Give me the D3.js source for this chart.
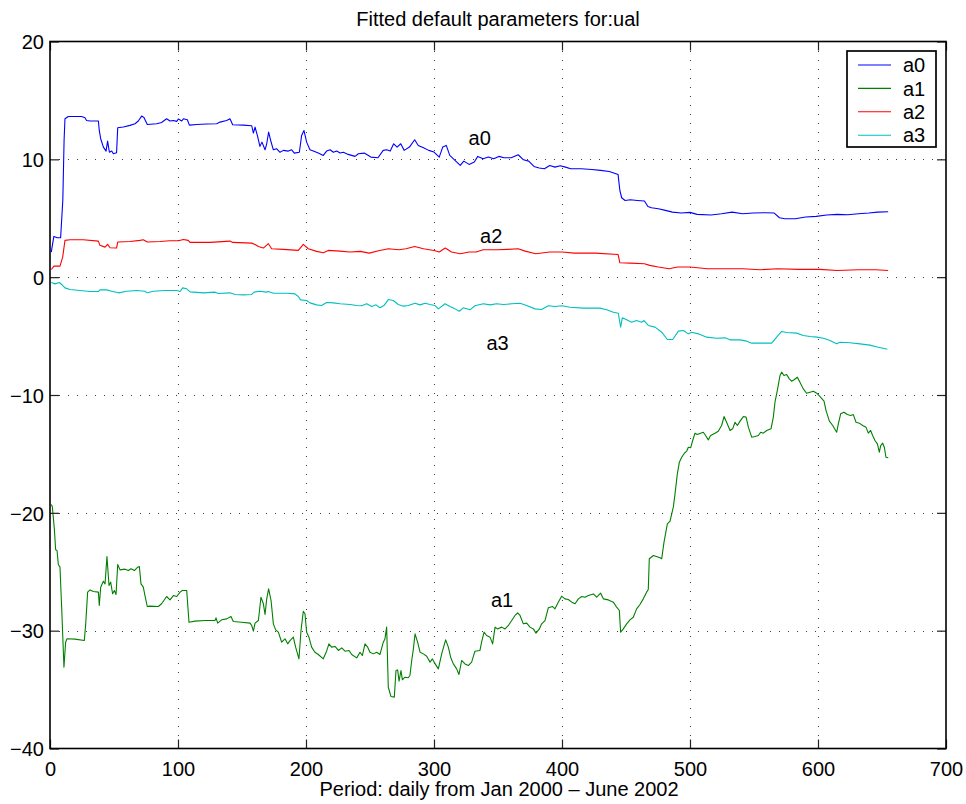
<!DOCTYPE html>
<html>
<head>
<meta charset="utf-8">
<script src="https://cdn.jsdelivr.net/npm/d3@7"></script>
<style>
  html, body { margin: 0; padding: 0; background: #fff; }
  svg { display: block; }
  text { font-family: "Liberation Sans", Arial, Helvetica, sans-serif; fill: #000; }
</style>
</head>
<body>
<svg id="chart" width="966" height="804"></svg>
<script>
// Fitted parameter traces, [day, value]
const a0Trace = [[1,2.13],[3,3.46],[5.7,3.35],[8.3,3.35],[10,6.5],[11,11.6],[11.7,13.44],[14.3,13.64],[24.7,13.64],[27.3,13.53],[28.6,13.3],[31.3,13.25],[37.8,13.25],[38.5,12.45],[39.6,11.75],[41.7,11.04],[43.8,10.7],[45,11.55],[46.4,10.6],[48.2,10.7],[49.5,10.47],[52,10.56],[52.9,12.68],[57.3,12.74],[62.5,12.88],[66.4,13.02],[69,13.25],[71.6,13.67],[73.4,13.55],[76,12.96],[83.3,13.02],[87.2,13.13],[91.1,13.44],[93.75,13.25],[96.4,13.3],[99,13.22],[100.3,13.42],[102.9,13.25],[104.2,13.44],[107.3,13.36],[108.9,12.9],[114.6,12.96],[122.4,13.0],[130.2,13.02],[132.8,13.16],[138,13.3],[140.6,13.44],[142.7,12.93],[151,12.9],[157.6,12.85],[158.9,12.23],[160.2,12.74],[162,12.03],[164,11.1],[165.6,11.46],[168,10.81],[169.3,11.32],[170.8,12.31],[172.4,11.6],[174.5,10.81],[177,10.9],[179.7,10.6],[182.3,10.76],[186.2,10.7],[188.8,10.81],[190.9,10.53],[194.8,10.6],[196.6,12.03],[198.4,12.45],[200.5,11.46],[203.1,10.81],[205.7,10.7],[209.6,10.53],[213.5,10.33],[216.1,10.7],[218.8,10.81],[221.4,10.6],[224,10.7],[226.6,10.53],[229.2,10.6],[233,10.42],[238.3,10.25],[240.9,10.47],[245.5,10.53],[250.7,10.19],[256.2,10.13],[260.3,10.76],[263,10.81],[265.8,10.7],[268.5,11.32],[271.2,11.04],[274,11.32],[276.7,10.76],[280.8,11.04],[284.9,11.66],[287.7,11.18],[291.8,10.98],[295.9,10.76],[300,10.62],[304.1,10.19],[306.8,11.04],[309.6,11.18],[312.3,10.33],[316.4,9.91],[320.5,9.48],[323.3,9.85],[327.4,9.57],[331.5,9.77],[334.2,10.25],[338.4,10.05],[342.5,10.19],[346.6,10.05],[350.7,10.25],[354.8,10.13],[360.3,10.13],[365.8,10.39],[369.9,9.96],[374,9.85],[378.1,9.4],[382.2,9.26],[386.3,9.2],[390.4,9.48],[394.5,9.34],[398.6,9.46],[402.7,9.34],[406.8,9.2],[415.1,9.2],[423.3,9.14],[430.1,9.06],[437,8.97],[443.8,8.72],[445.2,7.36],[446.6,6.74],[449.3,6.51],[453.4,6.57],[458.9,6.51],[464.4,6.46],[467.1,6.0],[469.9,5.89],[475.3,5.81],[480.8,5.67],[486.3,5.52],[493.2,5.44],[500,5.5],[505.5,5.33],[516.4,5.27],[524.7,5.38],[532.9,5.52],[541.1,5.38],[549.3,5.44],[558.9,5.47],[565.8,5.44],[569.9,5.04],[574,4.96],[582.2,4.96],[590.4,5.1],[598.6,5.16],[606.8,5.27],[615.1,5.33],[623.3,5.3],[631.5,5.38],[639.7,5.44],[646.6,5.52],[654.8,5.55]];

const a1Trace = [[1,-19.3],[1.8,-19.46],[3.4,-21.36],[4.4,-23.14],[5.5,-23.2],[6.5,-24.39],[7.8,-24.61],[9.1,-28.0],[10.9,-33.1],[12.2,-30.98],[13.3,-30.69],[19.5,-30.72],[26.8,-30.84],[27.9,-29.42],[29.4,-26.73],[31.3,-26.54],[33.9,-26.68],[37.8,-26.73],[38.5,-27.86],[39.6,-26.31],[41.7,-25.8],[43,-26.03],[44.5,-23.71],[46.1,-26.17],[47.4,-25.88],[48.9,-26.87],[50.3,-26.59],[51.6,-26.93],[52.9,-24.39],[54.7,-24.84],[58.6,-24.78],[61.2,-24.9],[63.3,-24.75],[65.9,-24.9],[68.5,-24.61],[69.8,-24.55],[71.1,-26.03],[72.9,-26.31],[74.2,-27.02],[76,-27.95],[78.1,-27.92],[84.6,-27.95],[87.2,-27.72],[91.1,-27.1],[93.75,-27.38],[96.4,-27.02],[99,-27.1],[101.6,-26.73],[103.4,-26.59],[106.8,-26.59],[108.6,-29.28],[113.3,-29.19],[121.1,-29.14],[128.9,-29.14],[129.7,-28.91],[131,-29.36],[134.1,-29.08],[138,-29.0],[141.4,-28.8],[143.2,-29.22],[149.7,-29.28],[156.3,-29.36],[157.6,-29.56],[158.9,-30.04],[160.2,-29.36],[162.8,-29.14],[164.8,-27.16],[166.7,-27.72],[168,-28.63],[169.3,-27.3],[170.8,-26.45],[172.7,-27.44],[174.5,-29.42],[176.3,-29.93],[178.4,-30.13],[181,-30.98],[183.6,-30.69],[185.7,-31.12],[187.5,-30.84],[190.1,-30.55],[191.9,-31.4],[194.5,-32.39],[196.1,-29.99],[197.9,-28.35],[199.2,-28.57],[200.5,-30.13],[202.3,-30.55],[204.4,-31.4],[207,-31.83],[209.6,-32.02],[213.5,-32.39],[216.1,-31.74],[217.9,-31.12],[220,-31.4],[222.7,-31.34],[225.3,-31.68],[227.9,-31.46],[230.5,-31.74],[233.6,-31.68],[235.7,-32.02],[239.6,-32.31],[242.2,-31.83],[244,-32.11],[246.1,-31.12],[248.2,-31.4],[250,-31.83],[252.6,-31.97],[255.2,-31.83],[257.8,-32.02],[260.4,-30.98],[261.7,-30.69],[263,-29.7],[264.3,-34.8],[266.4,-35.59],[269,-35.64],[270.3,-33.38],[271.6,-33.33],[272.7,-34.29],[274.2,-33.38],[275.3,-34.17],[277.3,-33.95],[279.9,-34.0],[281.2,-33.8],[282.6,-32.53],[283.9,-31.54],[285.2,-30.27],[287.2,-30.98],[289.1,-31.83],[291.7,-31.97],[294.3,-32.17],[296.9,-32.67],[298.7,-32.39],[300.8,-32.8],[303.4,-33.24],[306,-31.97],[309.1,-30.78],[311.2,-31.4],[313,-32.25],[315.1,-32.82],[317.7,-33.24],[319.5,-33.72],[321.6,-32.53],[324.2,-32.82],[326.8,-32.96],[329.4,-32.67],[332,-31.74],[335.9,-31.68],[337.2,-30.98],[339.1,-30.13],[341.1,-30.41],[343.8,-30.55],[345.8,-31.12],[347.7,-29.7],[349.5,-29.85],[352.9,-29.7],[355.5,-29.85],[358.1,-29.56],[360.7,-29.14],[363.3,-28.71],[365.4,-28.49],[367.2,-28.71],[369.8,-29.42],[372.4,-29.36],[375,-29.7],[377.6,-29.85],[379.7,-30.21],[382.3,-29.85],[384.1,-29.42],[386.7,-29.14],[389.3,-28.06],[392.7,-27.95],[394.5,-28.15],[397.1,-27.58],[399.7,-27.07],[402.3,-27.3],[404.9,-27.36],[407.6,-27.58],[410.2,-27.72],[412.8,-27.3],[415.4,-27.1],[418,-27.16],[420.6,-27.02],[424.5,-26.88],[427.1,-27.16],[430.2,-26.82],[432.3,-27.3],[436.2,-27.39],[440.1,-27.58],[442.7,-28.01],[444.8,-28.29],[445.8,-30.13],[447.9,-29.85],[450.5,-29.42],[453.1,-29.08],[455.7,-28.86],[458.3,-28.15],[460.9,-27.78],[463.5,-27.3],[466.1,-26.73],[467.4,-26.5],[468.2,-23.9],[471.4,-23.62],[476.6,-23.82],[477.9,-23.9],[479.7,-22.49],[482.3,-20.93],[484.4,-20.7],[487,-19.5],[488.3,-18.39],[490.1,-16.69],[491.7,-15.7],[493.5,-15.28],[495.6,-14.94],[497.4,-14.77],[498.7,-14.43],[500.5,-14.48],[502.1,-13.86],[503.9,-13.24],[505.7,-13.35],[508.3,-13.24],[510.4,-13.16],[512.2,-13.44],[514.3,-13.81],[516.1,-13.44],[519.5,-13.24],[522.1,-13.07],[524.7,-12.59],[526.6,-11.83],[528.6,-12.31],[531.3,-13.01],[533.3,-12.87],[535.2,-12.31],[537,-12.59],[539.1,-12.22],[541.7,-11.83],[543.8,-11.88],[545.6,-12.73],[548.2,-13.58],[550.8,-13.52],[553.4,-13.44],[555.2,-13.16],[557.3,-13.24],[559.9,-13.01],[563.3,-12.87],[565.1,-11.88],[566.4,-10.61],[568.2,-9.62],[570.3,-8.35],[571.6,-8.06],[573.4,-8.35],[575.5,-8.26],[577.6,-8.63],[579.4,-8.83],[581.3,-8.71],[583.9,-8.49],[585.9,-8.91],[588.5,-9.48],[591.1,-9.85],[593.8,-9.76],[596.4,-9.68],[599,-9.85],[601.6,-10.13],[604.7,-10.52],[606.3,-11.32],[608.9,-12.22],[611.5,-12.59],[614.6,-13.16],[615.9,-12.45],[617.7,-11.6],[620.3,-11.46],[622.9,-11.66],[625.5,-11.74],[627.6,-11.66],[629.7,-12.31],[632.3,-12.39],[634.9,-12.59],[637.5,-12.73],[639.3,-13.24],[641.1,-13.01],[642.7,-13.44],[644.5,-13.86],[646.4,-14.15],[647.9,-14.85],[649,-14.29],[650.5,-14.09],[651.8,-14.43],[653.1,-15.28],[654.9,-15.33]];

const a2Trace = [[1,0.65],[3.1,0.94],[7.8,0.94],[9.9,1.7],[11.7,3.12],[15.6,3.18],[26,3.18],[37.8,3.06],[39,2.7],[43,2.55],[45,2.78],[46.9,2.5],[52,2.47],[52.9,2.98],[62.5,3.03],[70.3,3.12],[72.9,3.18],[76,2.98],[85.9,3.03],[93.75,3.09],[100.3,3.09],[104.2,3.2],[108,3.12],[109.4,2.95],[125,2.95],[140.6,3.06],[142.7,2.95],[157.6,2.89],[160.2,2.78],[162.8,2.61],[166.7,2.47],[170.6,2.84],[173.2,2.41],[182.3,2.36],[194,2.27],[197.9,2.78],[201.8,2.41],[208.3,2.19],[213.5,2.07],[217.4,2.27],[226.6,2.21],[234.4,2.13],[242.5,2.19],[249.3,2.04],[257.5,2.27],[264.4,2.41],[272.6,2.33],[278.1,2.41],[284.9,2.61],[291.8,2.41],[300,2.27],[304.1,2.13],[308.8,2.47],[313.7,2.13],[320.5,1.99],[327.4,2.13],[332.9,2.13],[338.4,2.33],[349.3,2.33],[357.5,2.36],[365.8,2.41],[371.2,2.21],[379.5,1.99],[390.4,2.13],[400,2.13],[409.6,2.04],[426,2.04],[443.8,1.93],[445.2,1.22],[453.4,1.19],[464.4,1.14],[468.5,1.0],[475.3,0.86],[483.6,0.71],[490.4,0.86],[500,0.86],[513.7,0.71],[527.4,0.71],[541.1,0.71],[554.8,0.63],[568.5,0.71],[584.9,0.66],[601.4,0.66],[615.1,0.57],[631.5,0.63],[645.2,0.63],[654.8,0.57]];

const a3Trace = [[1,-0.45],[3.9,-0.57],[7.3,-0.45],[9.1,-0.62],[11.7,-0.91],[15.6,-1.05],[23.4,-1.13],[31.3,-1.22],[37.8,-1.22],[39,-1.08],[44.3,-1.08],[48.2,-1.19],[53.4,-1.33],[59.9,-1.19],[67.7,-1.13],[74.2,-1.19],[76,-1.33],[80.7,-1.19],[89.8,-1.13],[99,-1.13],[101.6,-1.22],[103.6,-0.91],[106.8,-0.99],[109.4,-1.25],[119.8,-1.33],[128.9,-1.27],[131.5,-1.39],[140.6,-1.33],[144.5,-1.47],[151,-1.5],[157.6,-1.47],[159.4,-1.27],[164,-1.19],[169.3,-1.27],[170.6,-1.22],[174.5,-1.36],[184.9,-1.36],[191.4,-1.42],[194,-1.64],[195.8,-1.93],[200.5,-1.98],[203.1,-2.18],[208.3,-2.35],[212.2,-2.41],[216.1,-2.15],[221.4,-2.18],[226.6,-2.26],[234.4,-2.32],[239.6,-2.41],[243.5,-2.43],[247.4,-2.26],[251.3,-2.49],[254.7,-2.35],[257.8,-2.6],[260.9,-2.41],[264.3,-1.9],[268.2,-1.98],[272.1,-2.32],[276,-2.46],[279.9,-2.41],[285.2,-2.21],[289.1,-2.35],[293,-2.21],[296.9,-2.32],[300.8,-2.41],[303.4,-2.69],[308.6,-2.26],[312.5,-2.49],[316.4,-2.69],[319.8,-2.89],[322.9,-2.6],[328.1,-2.77],[332,-2.43],[338.5,-2.26],[343.7,-2.35],[348.9,-2.26],[354.2,-2.32],[360.7,-2.26],[367.2,-2.21],[372.4,-2.41],[378.9,-2.69],[384.1,-2.75],[389.3,-2.43],[394.5,-2.49],[400,-2.43],[406.3,-2.55],[416.7,-2.63],[429.7,-2.63],[434.9,-2.77],[440.1,-2.97],[444,-3.06],[445.8,-4.24],[447.1,-3.45],[450.5,-3.62],[454.4,-3.82],[458.3,-3.68],[462.2,-3.82],[464.1,-3.68],[467.4,-4.1],[472.7,-4.24],[477.9,-4.67],[482.3,-5.29],[486.5,-5.29],[490.9,-4.58],[494.8,-4.53],[498.7,-4.81],[501.3,-4.67],[506.5,-4.81],[513,-5.09],[520.8,-5.18],[527.3,-5.15],[531.3,-5.32],[539.1,-5.32],[544.3,-5.43],[548.2,-5.6],[554.7,-5.6],[563.8,-5.6],[567.7,-5.09],[571.6,-4.61],[575.5,-4.7],[583.3,-4.75],[588.5,-4.95],[593.8,-5.04],[599,-5.09],[604.2,-5.18],[609.4,-5.38],[614.6,-5.66],[617.2,-5.52],[625,-5.57],[632.8,-5.66],[640.6,-5.77],[647.1,-5.94],[654.2,-6.11]];

const seriesNames = ["a0", "a1", "a2", "a3"];
const seriesTraces = [a0Trace, a1Trace, a2Trace, a3Trace];

// Axis ticks and limits
const xTicks = [0, 100, 200, 300, 400, 500, 600, 700];
const yTicks = [-40, -30, -20, -10, 0, 10, 20];
const xDomain = [0, 700];
const yDomain = [-40, 20];

// In-plot annotations (data coordinates, left edge / vertical middle)
const annotations = [
  { name: "a0", day: 327, value: 11.85 },
  { name: "a2", day: 336, value: 3.5 },
  { name: "a3", day: 341, value: -5.55 },
  { name: "a1", day: 344.5, value: -27.35 }
];

const titleText = "Fitted default parameters for:ual";
const xLabelText = "Period: daily from Jan 2000 \u2013 June 2002";

// ---- drawing ----
const colors = { a0: "#0000ff", a1: "#008000", a2: "#ff0000", a3: "#00bfbf" };
const plot = { left: 50, top: 41.5, right: 946, bottom: 748.5 };
const fontSize = 20;
const tickLen = 9;

const svg = d3.select("#chart");
const x = d3.scaleLinear().domain(xDomain).range([plot.left, plot.right]);
const y = d3.scaleLinear().domain(yDomain).range([plot.bottom, plot.top]);
const fmt = v => (v < 0 ? "\u2212" + Math.abs(v) : String(v));

// Dotted grid
const grid = svg.append("g").attr("stroke", "#3a3a3a").attr("stroke-width", 1)
  .attr("stroke-dasharray", "1,8").attr("shape-rendering", "crispEdges");
grid.selectAll("line.gx").data(xTicks.filter(t => t > xDomain[0] && t < xDomain[1]))
  .join("line").attr("class", "gx")
  .attr("x1", d => Math.round(x(d)) + 0.5).attr("x2", d => Math.round(x(d)) + 0.5)
  .attr("y1", plot.top).attr("y2", plot.bottom);
grid.selectAll("line.gy").data(yTicks.filter(t => t > yDomain[0] && t < yDomain[1]))
  .join("line").attr("class", "gy")
  .attr("y1", d => Math.round(y(d)) + 0.5).attr("y2", d => Math.round(y(d)) + 0.5)
  .attr("x1", plot.left).attr("x2", plot.right);

// Series lines
const line = d3.line().x(d => x(d[0])).y(d => y(d[1]));
svg.append("g").selectAll("path").data(seriesNames)
  .join("path")
  .attr("fill", "none")
  .attr("stroke", n => colors[n])
  .attr("stroke-width", 1.1)
  .attr("stroke-linejoin", "round")
  .attr("d", (n, i) => line(seriesTraces[i]));

// Axes: ticks inside on all four sides (box)
const axBottom = d3.axisBottom(x).tickValues(xTicks).tickSize(-tickLen).tickPadding(tickLen + 4).tickFormat(fmt);
const axTop = d3.axisTop(x).tickValues(xTicks).tickSize(-tickLen).tickFormat("");
const axLeft = d3.axisLeft(y).tickValues(yTicks).tickSize(-tickLen).tickPadding(tickLen + 5).tickFormat(fmt);
const axRight = d3.axisRight(y).tickValues(yTicks).tickSize(-tickLen).tickFormat("");

function styleAxis(g) {
  g.select(".domain").remove();
  g.selectAll(".tick line").attr("stroke", "#222").attr("stroke-width", 1.2);
  g.selectAll(".tick text").attr("font-size", fontSize)
    .attr("font-family", '"Liberation Sans", Arial, Helvetica, sans-serif').attr("fill", "#000");
}
svg.append("g").attr("transform", `translate(0,${plot.bottom})`).call(axBottom).call(styleAxis)
  .selectAll(".tick text").attr("dy", "0.71em").attr("y", 13);
svg.append("g").attr("transform", `translate(0,${plot.top})`).call(axTop).call(styleAxis);
svg.append("g").attr("transform", `translate(${plot.left},0)`).call(axLeft).call(styleAxis)
  .selectAll(".tick text").attr("x", -6).attr("dy", "0.36em");
svg.append("g").attr("transform", `translate(${plot.right},0)`).call(axRight).call(styleAxis);

// Box
svg.append("rect")
  .attr("x", plot.left).attr("y", plot.top)
  .attr("width", plot.right - plot.left).attr("height", plot.bottom - plot.top)
  .attr("fill", "none").attr("stroke", "#000").attr("stroke-width", 1.6);

// Title and axis label
svg.append("text").attr("x", (plot.left + plot.right) / 2).attr("y", 26)
  .attr("text-anchor", "middle").attr("font-size", fontSize).text(titleText);
svg.append("text").attr("x", (plot.left + plot.right) / 2 + 1).attr("y", 796)
  .attr("text-anchor", "middle").attr("font-size", fontSize).text(xLabelText);

// Annotations
svg.append("g").selectAll("text").data(annotations).join("text")
  .attr("x", d => x(d.day)).attr("y", d => y(d.value))
  .attr("dy", "0.36em").attr("font-size", fontSize).text(d => d.name);

// Legend
const legend = svg.append("g").attr("transform", "translate(847,51)");
legend.append("rect").attr("width", 89).attr("height", 96)
  .attr("fill", "#fff").attr("stroke", "#000").attr("stroke-width", 1.7);
const rows = legend.selectAll("g.row").data(seriesNames).join("g").attr("class", "row")
  .attr("transform", (d, i) => `translate(0,${14 + i * 23.4})`);
rows.append("line").attr("x1", 11).attr("x2", 44).attr("y1", 0).attr("y2", 0)
  .attr("stroke", d => colors[d]).attr("stroke-width", 1.1);
rows.append("text").attr("x", 56).attr("y", 0).attr("dy", "0.36em")
  .attr("font-size", fontSize).text(d => d);
</script>
</body>
</html>
